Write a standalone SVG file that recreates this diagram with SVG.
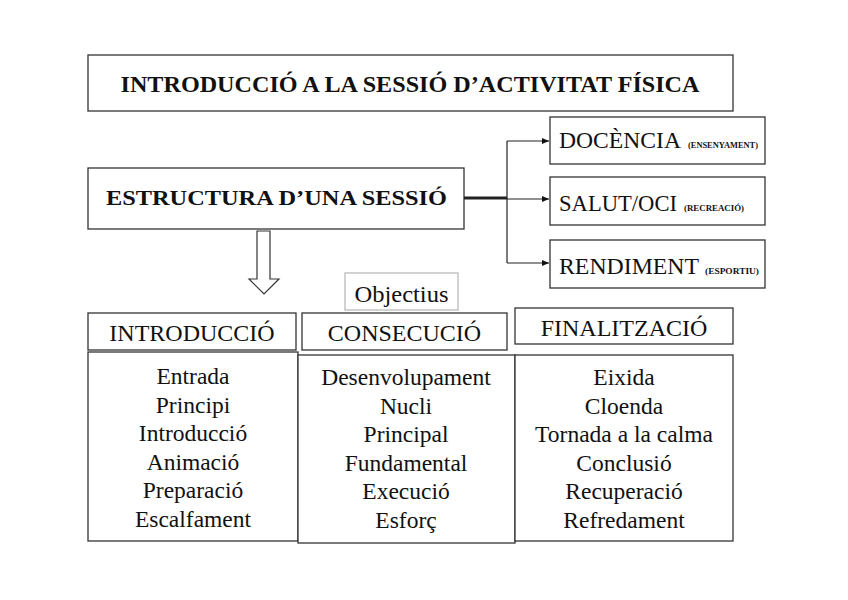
<svg xmlns="http://www.w3.org/2000/svg" width="848" height="600" viewBox="0 0 848 600">
<style>
rect{fill:#fff;stroke:#333;stroke-width:1.3}
text{font-family:"Liberation Serif","Times New Roman",serif;fill:#111}
.b{font-weight:bold}
.t{font-size:24px;text-anchor:middle}
.r{font-size:24px}
.s{font-size:7.5px;font-weight:bold}
.l{font-size:23.5px;text-anchor:middle}
.c{stroke:#222;fill:none;stroke-width:1.2}
</style>
<defs>
<marker id="ah" markerWidth="8" markerHeight="8" refX="7" refY="4" orient="auto" markerUnits="userSpaceOnUse">
<path d="M0,1 L7,4 L0,7 Z" fill="#111"/>
</marker>
</defs>
<rect width="848" height="600" style="fill:#fff;stroke:none"/>
<g id="title">
<rect x="88" y="55" width="645" height="56"/>
<text class="b t" x="410" y="92" textLength="579" lengthAdjust="spacingAndGlyphs">INTRODUCCIÓ A LA SESSIÓ D’ACTIVITAT FÍSICA</text>
</g>
<g id="estructura">
<rect x="88" y="168" width="376" height="61"/>
<text class="b" x="106" y="205" font-size="22" textLength="341" lengthAdjust="spacingAndGlyphs">ESTRUCTURA D’UNA SESSIÓ</text>
</g>
<g id="docencia">
<rect x="550" y="117" width="215" height="47"/>
<text class="r" x="559" y="148" textLength="122" lengthAdjust="spacingAndGlyphs">DOCÈNCIA</text>
<text class="s" x="688" y="148" textLength="70" lengthAdjust="spacingAndGlyphs">(ENSENYAMENT)</text>
</g>
<g id="salut">
<rect x="550" y="177" width="215" height="48"/>
<text class="r" x="559" y="211" textLength="118" lengthAdjust="spacingAndGlyphs">SALUT/OCI</text>
<text class="s" x="684" y="211" textLength="60" lengthAdjust="spacingAndGlyphs">(RECREACIÓ)</text>
</g>
<g id="rendiment">
<rect x="550" y="240" width="215" height="48"/>
<text class="r" x="559" y="274" textLength="140" lengthAdjust="spacingAndGlyphs">RENDIMENT</text>
<text class="s" x="705" y="274" textLength="54" lengthAdjust="spacingAndGlyphs">(ESPORTIU)</text>
</g>
<g id="objectius">
<rect x="345" y="273" width="113" height="37" style="stroke:#bbb"/>
<text class="t" x="401.5" y="302" textLength="94" lengthAdjust="spacingAndGlyphs">Objectius</text>
</g>
<g id="introduccio">
<rect x="88" y="313" width="208" height="37"/>
<text class="t" x="192" y="341">INTRODUCCIÓ</text>
<rect x="88" y="352" width="210" height="189"/>
<text class="l" x="193" y="384">Entrada</text>
<text class="l" x="193" y="413">Principi</text>
<text class="l" x="193" y="441">Introducció</text>
<text class="l" x="193" y="470">Animació</text>
<text class="l" x="193" y="498">Preparació</text>
<text class="l" x="193" y="527">Escalfament</text>
</g>
<g id="consecucio">
<rect x="302" y="313" width="205" height="37"/>
<text class="t" x="404.5" y="341">CONSECUCIÓ</text>
<rect x="298" y="355" width="217" height="188"/>
<text class="l" x="406" y="385">Desenvolupament</text>
<text class="l" x="406" y="414">Nucli</text>
<text class="l" x="406" y="442">Principal</text>
<text class="l" x="406" y="471">Fundamental</text>
<text class="l" x="406" y="499">Execució</text>
<text class="l" x="406" y="528">Esforç</text>
</g>
<g id="finalitzacio">
<rect x="515" y="308" width="218" height="36"/>
<text class="t" x="624" y="336">FINALITZACIÓ</text>
<rect x="515" y="355" width="218" height="186"/>
<text class="l" x="624" y="385">Eixida</text>
<text class="l" x="624" y="414">Cloenda</text>
<text class="l" x="624" y="442">Tornada a la calma</text>
<text class="l" x="624" y="471">Conclusió</text>
<text class="l" x="624" y="499">Recuperació</text>
<text class="l" x="624" y="528">Refredament</text>
</g>
<g id="connectors">
<line x1="464" y1="198" x2="507" y2="198" stroke="#222" stroke-width="3"/>
<path class="c" d="M507,141 V263"/>
<path class="c" d="M507,141 H549" marker-end="url(#ah)"/>
<path class="c" d="M507,199 H549" marker-end="url(#ah)"/>
<path class="c" d="M507,263 H549" marker-end="url(#ah)"/>
<path d="M257,231 H270 V279 H279 L264,294 L249,279 H257 Z" fill="#fff" stroke="#333" stroke-width="1.2"/>
</g>
</svg>
